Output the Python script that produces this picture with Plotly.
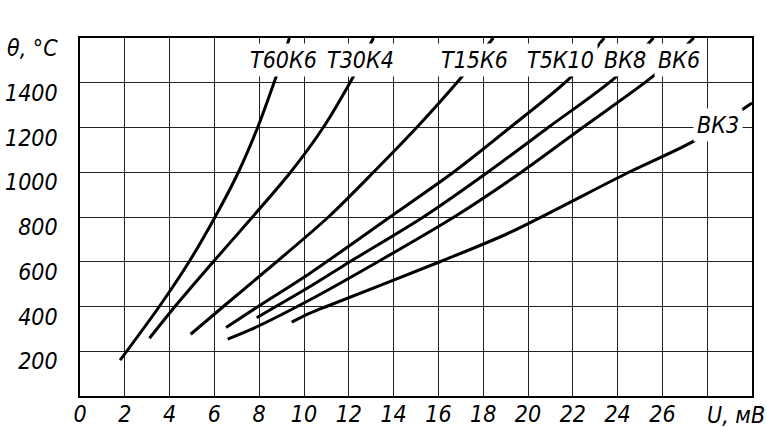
import plotly.graph_objects as go

FONT = "DejaVu Sans Condensed, Roboto Condensed, Liberation Sans Narrow, Roboto"

# Thermocouple characteristics: U (mV) -> theta (°C)
t60k6_u = [1.79, 3.54, 4.87, 6.03, 7.07, 7.93, 8.66, 9.35]
t60k6_t = [160, 400, 600, 800, 1000, 1200, 1400, 1600]

t30k4_u = [3.1, 4.24, 5.95, 7.7, 9.4, 10.86, 12.05, 13.1]
t30k4_t = [258, 400, 600, 800, 1000, 1200, 1400, 1600]

t15k6_u = [4.94, 6.4, 8.78, 11.09, 13.1, 15.03, 16.82, 18.45]
t15k6_t = [276, 400, 600, 800, 1000, 1200, 1400, 1600]

t5k10_u = [6.52, 7.95, 10.27, 13.84, 16.67, 19.2, 21.88, 23.4]
t5k10_t = [306, 400, 549, 800, 1000, 1200, 1422, 1600]

bk8_u = [7.89, 10.27, 12.05, 15.33, 18.2, 20.9, 23.88, 25.6]
bk8_t = [350, 489, 600, 800, 1000, 1200, 1422, 1600]

bk6_u = [6.59, 7.59, 10.27, 13.3, 16.7, 19.7, 22.44, 25.67, 27.4]
bk6_t = [254, 295, 430, 600, 800, 1000, 1200, 1436, 1600]

bk3_u = [9.45, 10.27, 11.0, 16.07, 19.2, 24.5, 27.38, 30.0]
bk3_t = [330, 370, 400, 600, 731, 1000, 1138, 1310]

series = [
    ("Т60К6", t60k6_u, t60k6_t),
    ("Т30К4", t30k4_u, t30k4_t),
    ("Т15К6", t15k6_u, t15k6_t),
    ("Т5К10", t5k10_u, t5k10_t),
    ("ВК8", bk8_u, bk8_t),
    ("ВК6", bk6_u, bk6_t),
    ("ВК3", bk3_u, bk3_t),
]

# Curve labels (name, x, y)
label_names = ["Т60К6", "Т30К4", "Т15К6", "Т5К10", "ВК8", "ВК6", "ВК3"]
label_x = [9.08, 12.5, 17.63, 21.47, 24.35, 26.74, 28.46]
label_y = [1500, 1500, 1500, 1500, 1500, 1500, 1209]

x_ticks = list(range(0, 31, 2))
x_text = [str(v) for v in x_ticks[:-2]] + ["", ""]
y_ticks = list(range(0, 1601, 200))
y_text = [""] + [str(v) for v in y_ticks[1:-1]] + ["θ, °С"]

fig = go.Figure()
for name, u, t in series:
    fig.add_trace(go.Scatter(x=u, y=t, mode="lines", name=name,
                             line=dict(color="black", width=3, shape="spline", smoothing=0.8),
                             showlegend=False, hoverinfo="skip"))

tfont = dict(family=FONT, size=23, color="black", style="italic", weight=300)

for n, x, y in zip(label_names, label_x, label_y):
    fig.add_annotation(x=x, y=y, text=n, showarrow=False, font=tfont,
                       bgcolor="white", borderpad=3, xanchor="center", yanchor="middle")

fig.add_annotation(x=29.3, y=0, yref="y", text="U, мВ", showarrow=False, font=tfont,
                   xanchor="center", yanchor="top", yshift=-4)

fig.update_xaxes(range=[0, 30], tickvals=x_ticks, ticktext=x_text, showgrid=True,
                 gridcolor="#222", gridwidth=1, zeroline=False, showline=True,
                 linecolor="black", linewidth=1.5, mirror=True, ticks="",
                 tickfont=tfont, ticklabelstandoff=-3, fixedrange=True, automargin=False)
fig.update_yaxes(range=[0, 1600], tickvals=y_ticks, ticktext=y_text, showgrid=True,
                 gridcolor="#222", gridwidth=1, zeroline=False, showline=True,
                 linecolor="black", linewidth=1.5, mirror=True, ticks="",
                 tickfont=tfont, ticklabelshift=10, ticklabelstandoff=16, fixedrange=True,
                 automargin=False)

fig.update_layout(width=767, height=427, margin=dict(l=80, r=15, t=38, b=31),
                  plot_bgcolor="white", paper_bgcolor="white")

fig.write_html("out.html", config={"displayModeBar": False},
               post_script="document.body.style.margin='0px';document.body.style.overflow='hidden';")
